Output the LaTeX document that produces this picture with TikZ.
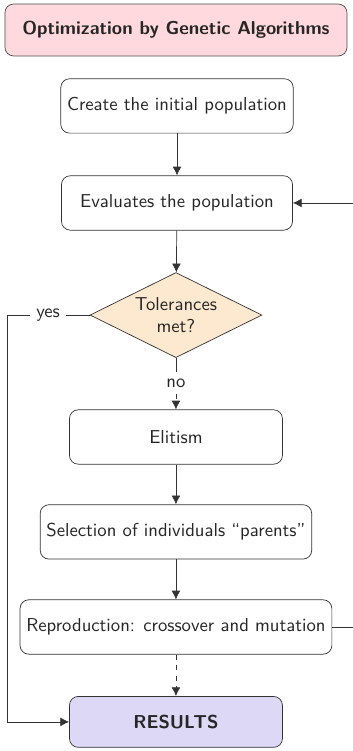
\documentclass[tikz,border=0pt]{standalone}
\usepackage{tikz}
\usepackage{xcolor}
\usetikzlibrary{shapes.geometric, arrows.meta}

\definecolor{titlepink}{RGB}{255,217,221}
\definecolor{testorange}{RGB}{253,233,208}
\definecolor{resultlilac}{RGB}{220,216,245}

\newcommand{\boxfont}{\sffamily\fontsize{10.65pt}{12.8pt}\selectfont}

\tikzset{
    stepbox/.style={draw=black!80, rounded corners=5pt, fill=white, minimum height=31pt, inner xsep=3.6pt, inner ysep=5pt, font=\boxfont, text=black!85},
    titlebox/.style={stepbox, draw=black!70, fill=titlepink, minimum width=195pt, minimum height=29.6pt, font=\boxfont\bfseries},
    testbox/.style={diamond, draw=black!80, fill=testorange, aspect=2, minimum width=98pt, minimum height=48.5pt, inner sep=1pt, align=center, font=\boxfont, text=black!85},
    resultbox/.style={stepbox, fill=resultlilac, minimum height=29pt, font=\boxfont\bfseries},
    flow/.style={-{Latex[length=5pt,width=5pt]}, black!80}
}

\begin{document}
\begin{tikzpicture}
\useasboundingbox (0,0) rectangle (201.2pt,-428.1pt);

\node[titlebox] (title) at (100.3pt,-17.1pt) {Optimization by Genetic Algorithms};
\node[stepbox, minimum width=131.7pt] (init) at (100.9pt,-60.4pt) {Create the initial population};
\node[stepbox, minimum width=131.7pt] (eval) at (100.9pt,-115.7pt) {Evaluates the population};
\node[testbox] (tol) at (100.3pt,-179.6pt) {Tolerances\\met?};
\node[stepbox, minimum width=121.4pt] (elit) at (100.3pt,-249.1pt) {Elitism};
\node[stepbox] (sel) at (100.3pt,-303.2pt) {Selection of individuals ``parents''};
\node[stepbox] (repr) at (100.3pt,-357.4pt) {Reproduction: crossover and mutation};
\node[resultbox, minimum width=121.4pt] (res) at (100.3pt,-411.5pt) {RESULTS};

% labels on the branches of the test
\node[font=\boxfont, text=black!85] (no) at (100.3pt,-218.3pt) {no};
\node[font=\boxfont, text=black!85] (yes) at (27.4pt,-179.6pt) {yes};

% free ends of the loops
\coordinate (left) at (4pt,-179.6pt);
\coordinate (right) at (215pt,-357.4pt);

\draw[flow] (init) -- (eval);
\draw[flow] (eval) -- (tol);
\draw[black!80] (tol) -- (no);
\draw[flow, dashed] (no) -- (elit);
\draw[flow] (elit) -- (sel);
\draw[flow] (sel) -- (repr);
\draw[flow, dashed] (repr) -- (res);

% yes branch
\draw[black!80] (tol) -- (yes);
\draw[flow] (yes) -| (left) |- (res);

% loop back to the evaluation
\draw[flow] (repr) -- (right) |- (eval);
\end{tikzpicture}
\end{document}
